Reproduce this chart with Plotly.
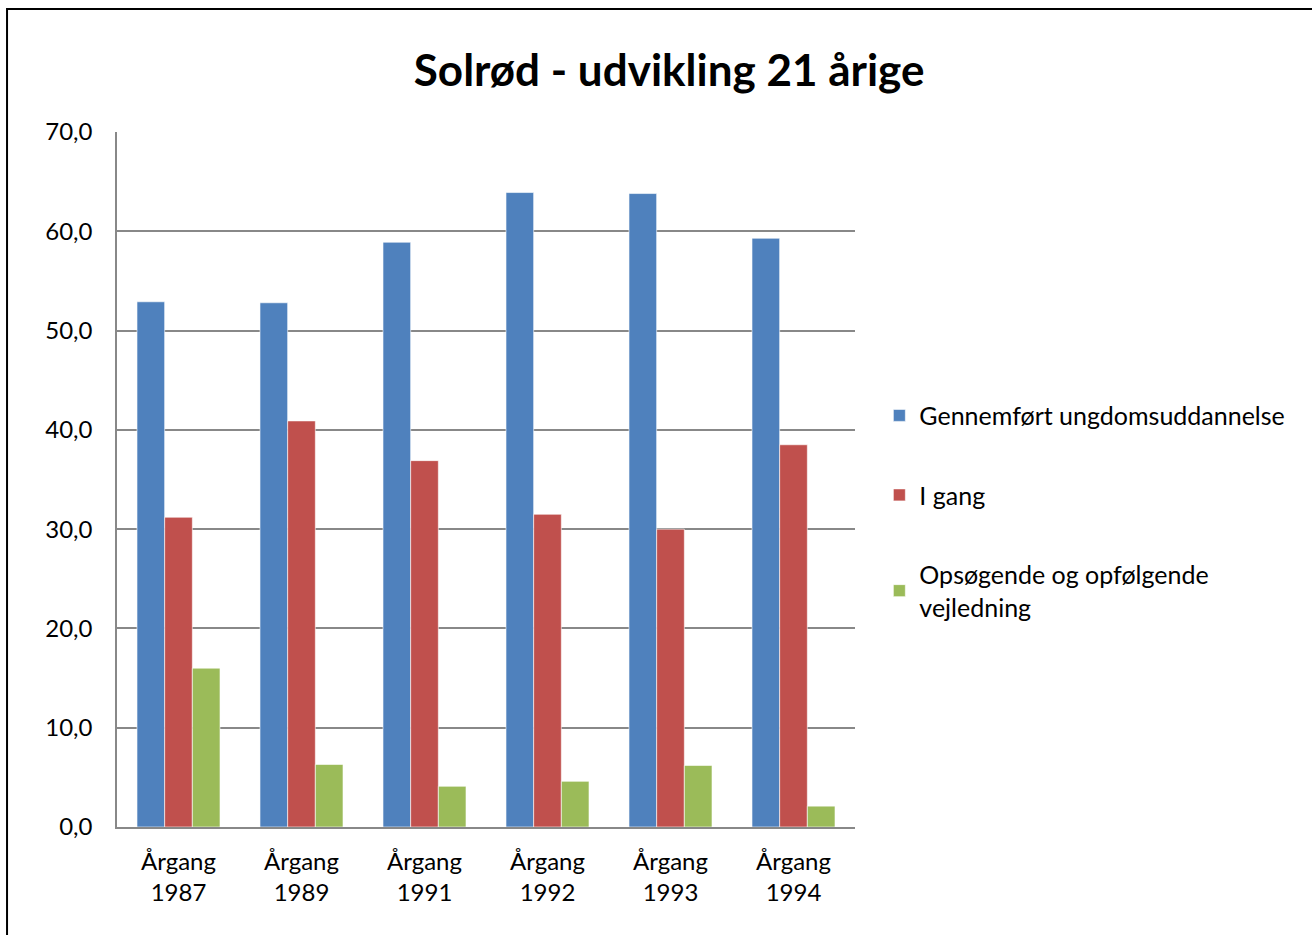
import plotly.graph_objects as go

categories = ["Årgang<br>1987", "Årgang<br>1989", "Årgang<br>1991",
              "Årgang<br>1992", "Årgang<br>1993", "Årgang<br>1994"]
gennemfoert = [52.9, 52.8, 58.9, 63.9, 63.8, 59.3]
i_gang = [31.2, 40.9, 36.9, 31.5, 30.0, 38.5]
vejledning = [16.0, 6.3, 4.1, 4.6, 6.2, 2.1]

series_names = ["Gennemført ungdomsuddannelse", "I gang",
                "Opsøgende og opfølgende<br>vejledning"]
colors = ["#4F81BD", "#C0504D", "#9BBB59"]

tick_vals = [0, 10, 20, 30, 40, 50, 60, 70]
tick_text = ["0,0", "10,0", "20,0", "30,0", "40,0", "50,0", "60,0", "70,0"]

font = "Lato, 'Open Sans', sans-serif"

fig = go.Figure()
for name, vals, col in zip(series_names, [gennemfoert, i_gang, vejledning], colors):
    fig.add_trace(go.Bar(
        x=categories, y=vals, name=name, legendgroup=name,
        marker=dict(color=col, line=dict(color="rgba(255,255,255,0.6)", width=1)),
    ))

fig.update_layout(
    width=1312, height=935,
    margin=dict(l=117, r=457, t=132, b=108),
    paper_bgcolor="white", plot_bgcolor="white",
    barmode="group", bargap=0.325, bargroupgap=0,
    font=dict(family=font, size=23, color="black"),
    title=dict(text="<b>Solrød - udvikling 21 årige</b>", x=0.51, xanchor="center",
               y=0.925, yanchor="middle", font=dict(size=44, family=font)),
    legend=dict(x=1.033, y=0.625, xanchor="left", yanchor="top",
                tracegroupgap=44, itemwidth=30, bgcolor="rgba(0,0,0,0)",
                font=dict(size=25)),
    showlegend=True,
)
fig.update_yaxes(range=[0, 70], tickvals=tick_vals, ticktext=tick_text,
                 showgrid=True, gridcolor="#888888", gridwidth=1.5,
                 showline=True, linecolor="#888888", linewidth=1.5,
                 ticks="", ticklabelstandoff=18,
                 zeroline=False, tickfont=dict(size=24))
fig.update_xaxes(showline=True, linecolor="#888888", linewidth=1.5,
                 ticks="", ticklabelstandoff=12, tickfont=dict(size=24))

# outer chart frame (runs off the right and bottom edges like the original)
fig.add_shape(type="rect", xref="paper", yref="paper",
              x0=-0.149, x1=2.0, y0=-0.5, y1=1.177,
              line=dict(color="black", width=2), layer="below")

fig.write_html("out.html", config={"displayModeBar": False},
               post_script="document.body.style.margin='0';")
